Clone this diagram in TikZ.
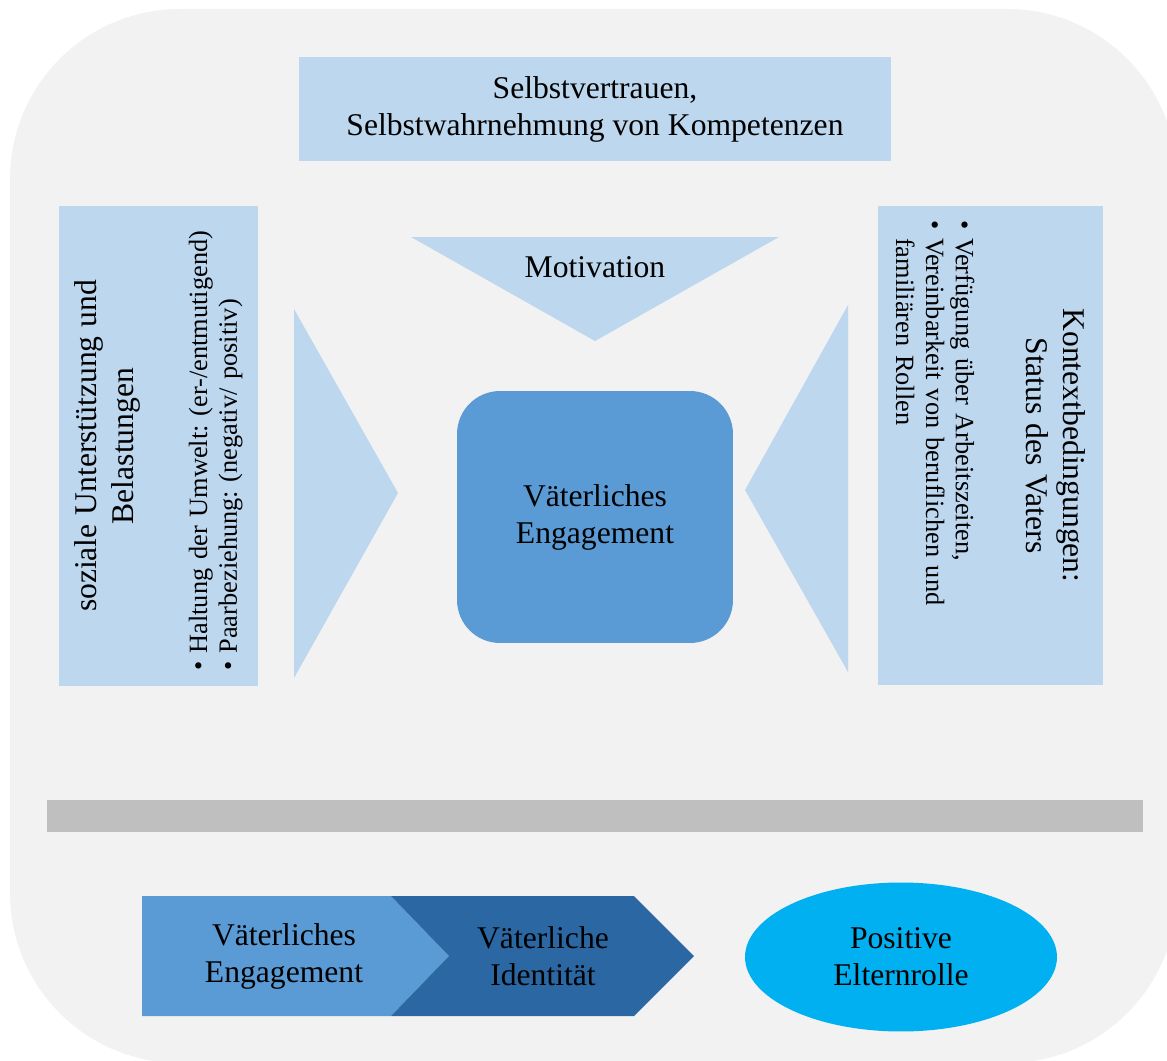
\documentclass[tikz,border=0pt]{standalone}
\usepackage{fontspec}
\setmainfont{Liberation Serif}
\usetikzlibrary{shapes.geometric}

\definecolor{panelgrey}{HTML}{F2F2F2}
\definecolor{paleblue}{HTML}{BDD7EE}
\definecolor{midblue}{HTML}{5B9BD5}
\definecolor{deepblue}{HTML}{2A67A3}
\definecolor{brightcyan}{HTML}{00B0F0}
\definecolor{bargrey}{HTML}{BFBFBF}

\newcommand{\titlesize}{\fontsize{18}{21}\selectfont}
\newcommand{\listsize}{\fontsize{15}{17}\selectfont\frenchspacing}
% bullet line with hanging indent
\newcommand{\punkt}[1]{\par\hangindent=10pt\hangafter=1\noindent\makebox[10pt][l]{\textbullet}#1\par}

\tikzset{
  infobox/.style={fill=paleblue, align=center, font=\titlesize, inner sep=0pt},
  sidebox/.style={fill=paleblue, align=left, font=\listsize, text width=9.0cm,
    inner xsep=0.3cm, inner ysep=0pt, minimum width=9.6cm},
  corebox/.style={fill=midblue, rounded corners=0.86cm, align=center, font=\titlesize},
  plainlabel/.style={font=\titlesize, align=center}
}

\begin{document}
\begin{tikzpicture}[x=0.02cm, y=-0.02cm]
  \clip (0,0) rectangle (1167,1061);
  % grey panel behind everything
  \fill[panelgrey, rounded corners=3.4cm] (10,9) rectangle (1177,1063);

  \node[infobox, minimum width=11.84cm, minimum height=2.08cm] (selbst) at (595,109)
    {Selbstvertrauen,\\Selbstwahrnehmung von Kompetenzen};

  % wedges pointing at the centre
  \fill[paleblue] (411,237) -- (779,237) -- (595,341) -- cycle;
  \fill[paleblue] (294,309) -- (398,493) -- (294,678) -- cycle;
  \fill[paleblue] (848,305) -- (745,490) -- (848,672) -- cycle;
  \node[plainlabel, anchor=base] (motiv) at (595,277) {Motivation};

  \node[corebox, minimum width=5.52cm, minimum height=5.04cm] (kern) at (595,517)
    {Väterliches\\Engagement};

  % side panels, turned sideways
  \node[sidebox, rotate=90, minimum height=3.98cm] (sozial) at (158.5,446) {%
    {\titlesize\centering soziale Unterstützung und\\Belastungen\par}
    \vspace{25pt}
    \punkt{Haltung der Umwelt: (er-/entmutigend)}
    \punkt{Paarbeziehung: (negativ/ positiv)}};
  \node[sidebox, rotate=-90, minimum height=4.5cm] (kontext) at (990.5,445.5) {%
    {\titlesize\centering Kontextbedingungen:\\Status des Vaters\par}
    \vspace{23pt}
    \punkt{Verfügung über Arbeitszeiten,}
    \punkt{Vereinbarkeit von beruflichen und familiären Rollen}};

  \fill[bargrey] (47,800) rectangle (1143,832);

  % process arrows at the bottom
  \fill[midblue] (142,896) -- (391,896) -- (449,956) -- (391,1016) -- (142,1016) -- cycle;
  \fill[deepblue] (391,896) -- (634,896) -- (694,956) -- (634,1016) -- (391,1016) -- (449,956) -- cycle;
  \node[plainlabel] (engage) at (284,956) {Väterliches\\Engagement};
  \node[plainlabel] (ident) at (543,956) {Väterliche\\Identität};
  \node[plainlabel, ellipse, fill=brightcyan, minimum width=6.24cm, minimum height=2.98cm]
    (eltern) at (901,957) {Positive\\Elternrolle};
\end{tikzpicture}
\end{document}
